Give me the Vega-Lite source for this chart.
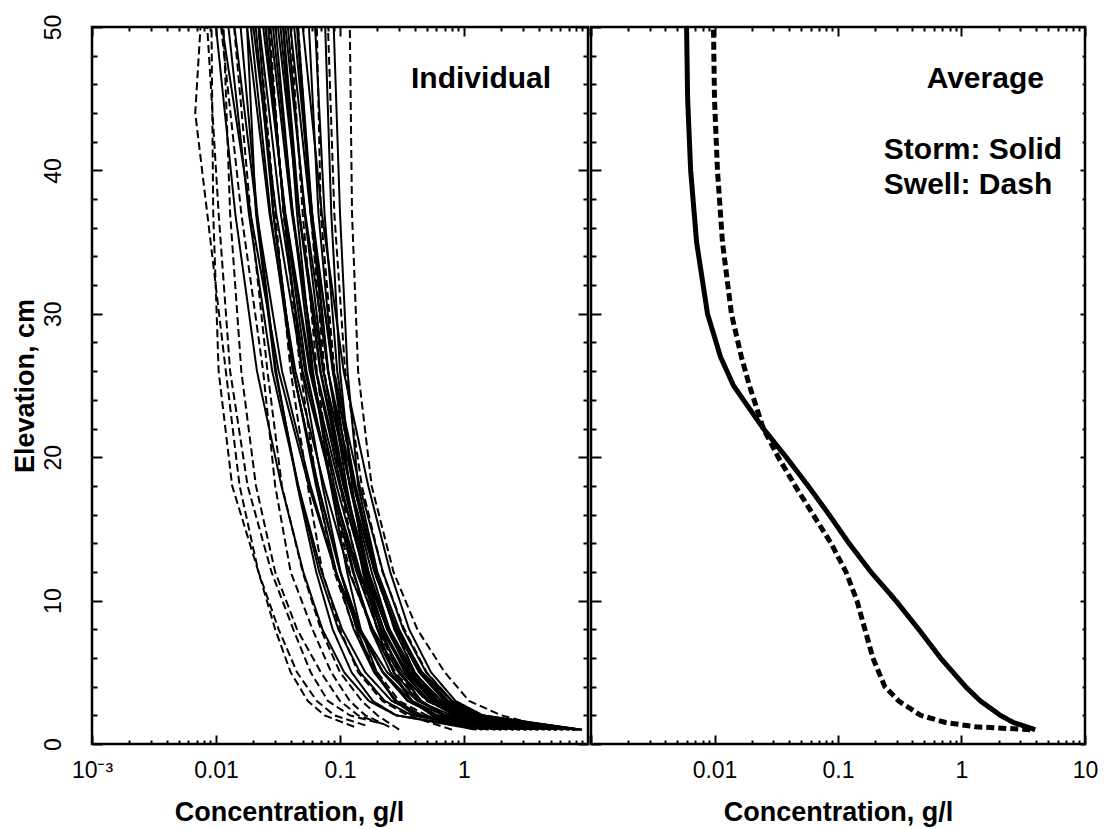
{
"$schema": "https://vega.github.io/schema/vega-lite/v6.json",
"background": "white",
"padding": {"left": 9, "top": 12, "right": 5, "bottom": 5},
"spacing": -4,
"config": {
  "view": {"stroke": "black", "strokeWidth": 2.5},
  "font": "Liberation Sans",
  "axis": {"domain": false, "grid": false, "minExtent": 0, "labelFont": "Liberation Sans", "labelFontSize": 23, "labelColor": "black", "titleFont": "Liberation Sans", "titleFontSize": 27, "titleFontWeight": "bold", "titleColor": "black", "tickColor": "black", "tickWidth": 2, "labelOverlap": false, "labelFlush": false, "labelBound": false}
},
"datasets": {
"individual": [
{"id":"S1","w":"Storm","z":1,"c":1.58},{"id":"S1","w":"Storm","z":2,"c":0.283},{"id":"S1","w":"Storm","z":3,"c":0.171},{"id":"S1","w":"Storm","z":5,"c":0.108},{"id":"S1","w":"Storm","z":8,"c":0.0721},{"id":"S1","w":"Storm","z":12,"c":0.0506},{"id":"S1","w":"Storm","z":18,"c":0.0337},{"id":"S1","w":"Storm","z":26,"c":0.0214},{"id":"S1","w":"Storm","z":37,"c":0.0143},{"id":"S1","w":"Storm","z":50,"c":0.0100},
{"id":"S2","w":"Storm","z":1,"c":2.82},{"id":"S2","w":"Storm","z":2,"c":0.448},{"id":"S2","w":"Storm","z":3,"c":0.261},{"id":"S2","w":"Storm","z":5,"c":0.160},{"id":"S2","w":"Storm","z":8,"c":0.104},{"id":"S2","w":"Storm","z":12,"c":0.0711},{"id":"S2","w":"Storm","z":18,"c":0.0461},{"id":"S2","w":"Storm","z":26,"c":0.0284},{"id":"S2","w":"Storm","z":37,"c":0.0184},{"id":"S2","w":"Storm","z":50,"c":0.0126},
{"id":"S3","w":"Storm","z":1,"c":5.01},{"id":"S3","w":"Storm","z":2,"c":0.681},{"id":"S3","w":"Storm","z":3,"c":0.378},{"id":"S3","w":"Storm","z":5,"c":0.223},{"id":"S3","w":"Storm","z":8,"c":0.140},{"id":"S3","w":"Storm","z":12,"c":0.0925},{"id":"S3","w":"Storm","z":18,"c":0.0578},{"id":"S3","w":"Storm","z":26,"c":0.0341},{"id":"S3","w":"Storm","z":37,"c":0.0213},{"id":"S3","w":"Storm","z":50,"c":0.0141},
{"id":"S4","w":"Storm","z":1,"c":1.26},{"id":"S4","w":"Storm","z":2,"c":0.284},{"id":"S4","w":"Storm","z":3,"c":0.184},{"id":"S4","w":"Storm","z":5,"c":0.124},{"id":"S4","w":"Storm","z":8,"c":0.0873},{"id":"S4","w":"Storm","z":12,"c":0.0643},{"id":"S4","w":"Storm","z":18,"c":0.0453},{"id":"S4","w":"Storm","z":26,"c":0.0305},{"id":"S4","w":"Storm","z":37,"c":0.0215},{"id":"S4","w":"Storm","z":50,"c":0.0158},
{"id":"S5","w":"Storm","z":1,"c":7.08},{"id":"S5","w":"Storm","z":2,"c":0.925},{"id":"S5","w":"Storm","z":3,"c":0.508},{"id":"S5","w":"Storm","z":5,"c":0.296},{"id":"S5","w":"Storm","z":8,"c":0.184},{"id":"S5","w":"Storm","z":12,"c":0.118},{"id":"S5","w":"Storm","z":18,"c":0.0748},{"id":"S5","w":"Storm","z":26,"c":0.0437},{"id":"S5","w":"Storm","z":37,"c":0.0270},{"id":"S5","w":"Storm","z":50,"c":0.0178},
{"id":"S6","w":"Storm","z":1,"c":3.55},{"id":"S6","w":"Storm","z":2,"c":0.600},{"id":"S6","w":"Storm","z":3,"c":0.356},{"id":"S6","w":"Storm","z":5,"c":0.222},{"id":"S6","w":"Storm","z":8,"c":0.146},{"id":"S6","w":"Storm","z":12,"c":0.101},{"id":"S6","w":"Storm","z":18,"c":0.0668},{"id":"S6","w":"Storm","z":26,"c":0.0418},{"id":"S6","w":"Storm","z":37,"c":0.0275},{"id":"S6","w":"Storm","z":50,"c":0.0191},
{"id":"S7","w":"Storm","z":1,"c":8.91},{"id":"S7","w":"Storm","z":2,"c":1.12},{"id":"S7","w":"Storm","z":3,"c":0.608},{"id":"S7","w":"Storm","z":5,"c":0.352},{"id":"S7","w":"Storm","z":8,"c":0.216},{"id":"S7","w":"Storm","z":12,"c":0.141},{"id":"S7","w":"Storm","z":18,"c":0.0863},{"id":"S7","w":"Storm","z":26,"c":0.0499},{"id":"S7","w":"Storm","z":37,"c":0.0306},{"id":"S7","w":"Storm","z":50,"c":0.0200},
{"id":"S8","w":"Storm","z":1,"c":2.24},{"id":"S8","w":"Storm","z":2,"c":0.457},{"id":"S8","w":"Storm","z":3,"c":0.286},{"id":"S8","w":"Storm","z":5,"c":0.188},{"id":"S8","w":"Storm","z":8,"c":0.129},{"id":"S8","w":"Storm","z":12,"c":0.0933},{"id":"S8","w":"Storm","z":18,"c":0.0641},{"id":"S8","w":"Storm","z":26,"c":0.0422},{"id":"S8","w":"Storm","z":37,"c":0.0290},{"id":"S8","w":"Storm","z":50,"c":0.0209},
{"id":"S9","w":"Storm","z":1,"c":6.31},{"id":"S9","w":"Storm","z":2,"c":0.927},{"id":"S9","w":"Storm","z":3,"c":0.527},{"id":"S9","w":"Storm","z":5,"c":0.318},{"id":"S9","w":"Storm","z":8,"c":0.202},{"id":"S9","w":"Storm","z":12,"c":0.136},{"id":"S9","w":"Storm","z":18,"c":0.0867},{"id":"S9","w":"Storm","z":26,"c":0.0522},{"id":"S9","w":"Storm","z":37,"c":0.0333},{"id":"S9","w":"Storm","z":50,"c":0.0224},
{"id":"S10","w":"Storm","z":1,"c":8.91},{"id":"S10","w":"Storm","z":2,"c":1.19},{"id":"S10","w":"Storm","z":3,"c":0.659},{"id":"S10","w":"Storm","z":5,"c":0.387},{"id":"S10","w":"Storm","z":8,"c":0.241},{"id":"S10","w":"Storm","z":12,"c":0.159},{"id":"S10","w":"Storm","z":18,"c":0.0993},{"id":"S10","w":"Storm","z":26,"c":0.0583},{"id":"S10","w":"Storm","z":37,"c":0.0363},{"id":"S10","w":"Storm","z":50,"c":0.0240},
{"id":"S11","w":"Storm","z":1,"c":3.98},{"id":"S11","w":"Storm","z":2,"c":0.711},{"id":"S11","w":"Storm","z":3,"c":0.429},{"id":"S11","w":"Storm","z":5,"c":0.272},{"id":"S11","w":"Storm","z":8,"c":0.181},{"id":"S11","w":"Storm","z":12,"c":0.127},{"id":"S11","w":"Storm","z":18,"c":0.0847},{"id":"S11","w":"Storm","z":26,"c":0.0537},{"id":"S11","w":"Storm","z":37,"c":0.0358},{"id":"S11","w":"Storm","z":50,"c":0.0251},
{"id":"S12","w":"Storm","z":1,"c":1.78},{"id":"S12","w":"Storm","z":2,"c":0.425},{"id":"S12","w":"Storm","z":3,"c":0.279},{"id":"S12","w":"Storm","z":5,"c":0.191},{"id":"S12","w":"Storm","z":8,"c":0.136},{"id":"S12","w":"Storm","z":12,"c":0.101},{"id":"S12","w":"Storm","z":18,"c":0.0723},{"id":"S12","w":"Storm","z":26,"c":0.0495},{"id":"S12","w":"Storm","z":37,"c":0.0353},{"id":"S12","w":"Storm","z":50,"c":0.0263},
{"id":"S13","w":"Storm","z":1,"c":7.94},{"id":"S13","w":"Storm","z":2,"c":1.16},{"id":"S13","w":"Storm","z":3,"c":0.658},{"id":"S13","w":"Storm","z":5,"c":0.394},{"id":"S13","w":"Storm","z":8,"c":0.251},{"id":"S13","w":"Storm","z":12,"c":0.169},{"id":"S13","w":"Storm","z":18,"c":0.107},{"id":"S13","w":"Storm","z":26,"c":0.0644},{"id":"S13","w":"Storm","z":37,"c":0.0409},{"id":"S13","w":"Storm","z":50,"c":0.0275},
{"id":"S14","w":"Storm","z":1,"c":5.62},{"id":"S14","w":"Storm","z":2,"c":0.935},{"id":"S14","w":"Storm","z":3,"c":0.552},{"id":"S14","w":"Storm","z":5,"c":0.344},{"id":"S14","w":"Storm","z":8,"c":0.225},{"id":"S14","w":"Storm","z":12,"c":0.156},{"id":"S14","w":"Storm","z":18,"c":0.102},{"id":"S14","w":"Storm","z":26,"c":0.0637},{"id":"S14","w":"Storm","z":37,"c":0.0417},{"id":"S14","w":"Storm","z":50,"c":0.0288},
{"id":"S15","w":"Storm","z":1,"c":2.82},{"id":"S15","w":"Storm","z":2,"c":0.603},{"id":"S15","w":"Storm","z":3,"c":0.383},{"id":"S15","w":"Storm","z":5,"c":0.255},{"id":"S15","w":"Storm","z":8,"c":0.177},{"id":"S15","w":"Storm","z":12,"c":0.129},{"id":"S15","w":"Storm","z":18,"c":0.0897},{"id":"S15","w":"Storm","z":26,"c":0.0597},{"id":"S15","w":"Storm","z":37,"c":0.0415},{"id":"S15","w":"Storm","z":50,"c":0.0302},
{"id":"S16","w":"Storm","z":1,"c":8.51},{"id":"S16","w":"Storm","z":2,"c":1.27},{"id":"S16","w":"Storm","z":3,"c":0.726},{"id":"S16","w":"Storm","z":5,"c":0.439},{"id":"S16","w":"Storm","z":8,"c":0.281},{"id":"S16","w":"Storm","z":12,"c":0.190},{"id":"S16","w":"Storm","z":18,"c":0.121},{"id":"S16","w":"Storm","z":26,"c":0.0733},{"id":"S16","w":"Storm","z":37,"c":0.0468},{"id":"S16","w":"Storm","z":50,"c":0.0316},
{"id":"S17","w":"Storm","z":1,"c":4.47},{"id":"S17","w":"Storm","z":2,"c":0.843},{"id":"S17","w":"Storm","z":3,"c":0.516},{"id":"S17","w":"Storm","z":5,"c":0.332},{"id":"S17","w":"Storm","z":8,"c":0.224},{"id":"S17","w":"Storm","z":12,"c":0.159},{"id":"S17","w":"Storm","z":18,"c":0.107},{"id":"S17","w":"Storm","z":26,"c":0.0692},{"id":"S17","w":"Storm","z":37,"c":0.0467},{"id":"S17","w":"Storm","z":50,"c":0.0331},
{"id":"S18","w":"Storm","z":1,"c":1.41},{"id":"S18","w":"Storm","z":2,"c":0.401},{"id":"S18","w":"Storm","z":3,"c":0.277},{"id":"S18","w":"Storm","z":5,"c":0.198},{"id":"S18","w":"Storm","z":8,"c":0.147},{"id":"S18","w":"Storm","z":12,"c":0.114},{"id":"S18","w":"Storm","z":18,"c":0.0843},{"id":"S18","w":"Storm","z":26,"c":0.0605},{"id":"S18","w":"Storm","z":37,"c":0.0450},{"id":"S18","w":"Storm","z":50,"c":0.0347},
{"id":"S19","w":"Storm","z":1,"c":7.08},{"id":"S19","w":"Storm","z":2,"c":1.18},{"id":"S19","w":"Storm","z":3,"c":0.695},{"id":"S19","w":"Storm","z":5,"c":0.433},{"id":"S19","w":"Storm","z":8,"c":0.284},{"id":"S19","w":"Storm","z":12,"c":0.196},{"id":"S19","w":"Storm","z":18,"c":0.129},{"id":"S19","w":"Storm","z":26,"c":0.0802},{"id":"S19","w":"Storm","z":37,"c":0.0525},{"id":"S19","w":"Storm","z":50,"c":0.0363},
{"id":"S20","w":"Storm","z":1,"c":3.16},{"id":"S20","w":"Storm","z":2,"c":0.703},{"id":"S20","w":"Storm","z":3,"c":0.452},{"id":"S20","w":"Storm","z":5,"c":0.303},{"id":"S20","w":"Storm","z":8,"c":0.213},{"id":"S20","w":"Storm","z":12,"c":0.156},{"id":"S20","w":"Storm","z":18,"c":0.110},{"id":"S20","w":"Storm","z":26,"c":0.0738},{"id":"S20","w":"Storm","z":37,"c":0.0518},{"id":"S20","w":"Storm","z":50,"c":0.0380},
{"id":"S21","w":"Storm","z":1,"c":8.51},{"id":"S21","w":"Storm","z":2,"c":1.37},{"id":"S21","w":"Storm","z":3,"c":0.803},{"id":"S21","w":"Storm","z":5,"c":0.495},{"id":"S21","w":"Storm","z":8,"c":0.323},{"id":"S21","w":"Storm","z":12,"c":0.222},{"id":"S21","w":"Storm","z":18,"c":0.144},{"id":"S21","w":"Storm","z":26,"c":0.0891},{"id":"S21","w":"Storm","z":37,"c":0.0579},{"id":"S21","w":"Storm","z":50,"c":0.0398},
{"id":"S22","w":"Storm","z":1,"c":5.01},{"id":"S22","w":"Storm","z":2,"c":0.991},{"id":"S22","w":"Storm","z":3,"c":0.615},{"id":"S22","w":"Storm","z":5,"c":0.401},{"id":"S22","w":"Storm","z":8,"c":0.274},{"id":"S22","w":"Storm","z":12,"c":0.196},{"id":"S22","w":"Storm","z":18,"c":0.134},{"id":"S22","w":"Storm","z":26,"c":0.0873},{"id":"S22","w":"Storm","z":37,"c":0.0596},{"id":"S22","w":"Storm","z":50,"c":0.0427},
{"id":"S23","w":"Storm","z":1,"c":2.00},{"id":"S23","w":"Storm","z":2,"c":0.552},{"id":"S23","w":"Storm","z":3,"c":0.378},{"id":"S23","w":"Storm","z":5,"c":0.270},{"id":"S23","w":"Storm","z":8,"c":0.200},{"id":"S23","w":"Storm","z":12,"c":0.153},{"id":"S23","w":"Storm","z":18,"c":0.113},{"id":"S23","w":"Storm","z":26,"c":0.0805},{"id":"S23","w":"Storm","z":37,"c":0.0596},{"id":"S23","w":"Storm","z":50,"c":0.0457},
{"id":"S24","w":"Storm","z":1,"c":7.94},{"id":"S24","w":"Storm","z":2,"c":1.42},{"id":"S24","w":"Storm","z":3,"c":0.855},{"id":"S24","w":"Storm","z":5,"c":0.542},{"id":"S24","w":"Storm","z":8,"c":0.361},{"id":"S24","w":"Storm","z":12,"c":0.254},{"id":"S24","w":"Storm","z":18,"c":0.169},{"id":"S24","w":"Storm","z":26,"c":0.107},{"id":"S24","w":"Storm","z":37,"c":0.0714},{"id":"S24","w":"Storm","z":50,"c":0.0501},
{"id":"S25","w":"Storm","z":1,"c":3.98},{"id":"S25","w":"Storm","z":2,"c":0.85},{"id":"S25","w":"Storm","z":3,"c":0.55},{"id":"S25","w":"Storm","z":5,"c":0.36},{"id":"S25","w":"Storm","z":8,"c":0.24},{"id":"S25","w":"Storm","z":12,"c":0.17},{"id":"S25","w":"Storm","z":18,"c":0.12},{"id":"S25","w":"Storm","z":26,"c":0.088},{"id":"S25","w":"Storm","z":37,"c":0.067},{"id":"S25","w":"Storm","z":50,"c":0.0562},
{"id":"S26","w":"Storm","z":1,"c":8.9},{"id":"S26","w":"Storm","z":2,"c":1.4},{"id":"S26","w":"Storm","z":3,"c":0.8},{"id":"S26","w":"Storm","z":5,"c":0.46},{"id":"S26","w":"Storm","z":8,"c":0.29},{"id":"S26","w":"Storm","z":12,"c":0.19},{"id":"S26","w":"Storm","z":18,"c":0.13},{"id":"S26","w":"Storm","z":26,"c":0.095},{"id":"S26","w":"Storm","z":37,"c":0.075},{"id":"S26","w":"Storm","z":50,"c":0.063},
{"id":"S27","w":"Storm","z":1,"c":2.5},{"id":"S27","w":"Storm","z":2,"c":0.7},{"id":"S27","w":"Storm","z":3,"c":0.45},{"id":"S27","w":"Storm","z":5,"c":0.3},{"id":"S27","w":"Storm","z":8,"c":0.21},{"id":"S27","w":"Storm","z":12,"c":0.16},{"id":"S27","w":"Storm","z":18,"c":0.125},{"id":"S27","w":"Storm","z":26,"c":0.1},{"id":"S27","w":"Storm","z":37,"c":0.085},{"id":"S27","w":"Storm","z":50,"c":0.076},
{"id":"S28","w":"Storm","z":1,"c":6.3},{"id":"S28","w":"Storm","z":2,"c":1.3},{"id":"S28","w":"Storm","z":3,"c":0.75},{"id":"S28","w":"Storm","z":5,"c":0.45},{"id":"S28","w":"Storm","z":8,"c":0.3},{"id":"S28","w":"Storm","z":12,"c":0.2},{"id":"S28","w":"Storm","z":18,"c":0.14},{"id":"S28","w":"Storm","z":26,"c":0.115},{"id":"S28","w":"Storm","z":37,"c":0.1},{"id":"S28","w":"Storm","z":50,"c":0.089},
{"id":"S29","w":"Storm","z":1,"c":3.2},{"id":"S29","w":"Storm","z":2,"c":0.6},{"id":"S29","w":"Storm","z":3,"c":0.35},{"id":"S29","w":"Storm","z":5,"c":0.22},{"id":"S29","w":"Storm","z":8,"c":0.145},{"id":"S29","w":"Storm","z":12,"c":0.1},{"id":"S29","w":"Storm","z":18,"c":0.066},{"id":"S29","w":"Storm","z":26,"c":0.042},{"id":"S29","w":"Storm","z":37,"c":0.029},{"id":"S29","w":"Storm","z":50,"c":0.022},
{"id":"S30","w":"Storm","z":1,"c":7.9},{"id":"S30","w":"Storm","z":2,"c":1.1},{"id":"S30","w":"Storm","z":3,"c":0.62},{"id":"S30","w":"Storm","z":5,"c":0.37},{"id":"S30","w":"Storm","z":8,"c":0.24},{"id":"S30","w":"Storm","z":12,"c":0.165},{"id":"S30","w":"Storm","z":18,"c":0.11},{"id":"S30","w":"Storm","z":26,"c":0.07},{"id":"S30","w":"Storm","z":37,"c":0.047},{"id":"S30","w":"Storm","z":50,"c":0.035},
{"id":"S31","w":"Storm","z":1,"c":8.3},{"id":"S31","w":"Storm","z":2,"c":1.05},{"id":"S31","w":"Storm","z":3,"c":0.58},{"id":"S31","w":"Storm","z":5,"c":0.34},{"id":"S31","w":"Storm","z":8,"c":0.215},{"id":"S31","w":"Storm","z":12,"c":0.145},{"id":"S31","w":"Storm","z":18,"c":0.094},{"id":"S31","w":"Storm","z":26,"c":0.057},{"id":"S31","w":"Storm","z":37,"c":0.036},{"id":"S31","w":"Storm","z":50,"c":0.025},
{"id":"S32","w":"Storm","z":1,"c":5.6},{"id":"S32","w":"Storm","z":2,"c":0.95},{"id":"S32","w":"Storm","z":3,"c":0.58},{"id":"S32","w":"Storm","z":5,"c":0.37},{"id":"S32","w":"Storm","z":8,"c":0.25},{"id":"S32","w":"Storm","z":12,"c":0.18},{"id":"S32","w":"Storm","z":18,"c":0.12},{"id":"S32","w":"Storm","z":26,"c":0.08},{"id":"S32","w":"Storm","z":37,"c":0.058},{"id":"S32","w":"Storm","z":50,"c":0.045},
{"id":"S33","w":"Storm","z":1,"c":7.9},{"id":"S33","w":"Storm","z":2,"c":0.8},{"id":"S33","w":"Storm","z":3,"c":0.42},{"id":"S33","w":"Storm","z":5,"c":0.24},{"id":"S33","w":"Storm","z":8,"c":0.145},{"id":"S33","w":"Storm","z":12,"c":0.092},{"id":"S33","w":"Storm","z":18,"c":0.056},{"id":"S33","w":"Storm","z":26,"c":0.032},{"id":"S33","w":"Storm","z":37,"c":0.019},{"id":"S33","w":"Storm","z":50,"c":0.0112},
{"id":"S34","w":"Storm","z":1,"c":2.0},{"id":"S34","w":"Storm","z":2,"c":0.38},{"id":"S34","w":"Storm","z":3,"c":0.23},{"id":"S34","w":"Storm","z":5,"c":0.145},{"id":"S34","w":"Storm","z":8,"c":0.097},{"id":"S34","w":"Storm","z":12,"c":0.068},{"id":"S34","w":"Storm","z":18,"c":0.046},{"id":"S34","w":"Storm","z":26,"c":0.03},{"id":"S34","w":"Storm","z":37,"c":0.021},{"id":"S34","w":"Storm","z":50,"c":0.0178},
{"id":"D1","w":"Swell","z":1.3,"c":0.16},{"id":"D1","w":"Swell","z":2,"c":0.09},{"id":"D1","w":"Swell","z":3,"c":0.065},{"id":"D1","w":"Swell","z":5,"c":0.045},{"id":"D1","w":"Swell","z":8,"c":0.032},{"id":"D1","w":"Swell","z":12,"c":0.022},{"id":"D1","w":"Swell","z":18,"c":0.0155},{"id":"D1","w":"Swell","z":26,"c":0.012},{"id":"D1","w":"Swell","z":37,"c":0.0085},{"id":"D1","w":"Swell","z":44,"c":0.0068},{"id":"D1","w":"Swell","z":50,"c":0.0075},
{"id":"D2","w":"Swell","z":1.5,"c":0.2},{"id":"D2","w":"Swell","z":2,"c":0.12},{"id":"D2","w":"Swell","z":3,"c":0.08},{"id":"D2","w":"Swell","z":5,"c":0.058},{"id":"D2","w":"Swell","z":8,"c":0.042},{"id":"D2","w":"Swell","z":12,"c":0.028},{"id":"D2","w":"Swell","z":18,"c":0.018},{"id":"D2","w":"Swell","z":26,"c":0.013},{"id":"D2","w":"Swell","z":37,"c":0.0105},{"id":"D2","w":"Swell","z":50,"c":0.0085},
{"id":"D3","w":"Swell","z":1.2,"c":0.13},{"id":"D3","w":"Swell","z":2,"c":0.075},{"id":"D3","w":"Swell","z":3,"c":0.055},{"id":"D3","w":"Swell","z":5,"c":0.04},{"id":"D3","w":"Swell","z":8,"c":0.03},{"id":"D3","w":"Swell","z":12,"c":0.022},{"id":"D3","w":"Swell","z":18,"c":0.0135},{"id":"D3","w":"Swell","z":26,"c":0.0105},{"id":"D3","w":"Swell","z":37,"c":0.0095},{"id":"D3","w":"Swell","z":50,"c":0.0092},
{"id":"D4","w":"Swell","z":1.2,"c":0.25},{"id":"D4","w":"Swell","z":2,"c":0.16},{"id":"D4","w":"Swell","z":3,"c":0.12},{"id":"D4","w":"Swell","z":5,"c":0.085},{"id":"D4","w":"Swell","z":8,"c":0.06},{"id":"D4","w":"Swell","z":12,"c":0.04},{"id":"D4","w":"Swell","z":18,"c":0.03},{"id":"D4","w":"Swell","z":26,"c":0.024},{"id":"D4","w":"Swell","z":37,"c":0.016},{"id":"D4","w":"Swell","z":50,"c":0.011},
{"id":"D5","w":"Swell","z":1,"c":0.3},{"id":"D5","w":"Swell","z":2,"c":0.2},{"id":"D5","w":"Swell","z":3,"c":0.15},{"id":"D5","w":"Swell","z":5,"c":0.1},{"id":"D5","w":"Swell","z":8,"c":0.07},{"id":"D5","w":"Swell","z":12,"c":0.05},{"id":"D5","w":"Swell","z":18,"c":0.034},{"id":"D5","w":"Swell","z":26,"c":0.026},{"id":"D5","w":"Swell","z":37,"c":0.019},{"id":"D5","w":"Swell","z":50,"c":0.014},
{"id":"D6","w":"Swell","z":1.4,"c":0.22},{"id":"D6","w":"Swell","z":2,"c":0.14},{"id":"D6","w":"Swell","z":3,"c":0.1},{"id":"D6","w":"Swell","z":5,"c":0.07},{"id":"D6","w":"Swell","z":8,"c":0.045},{"id":"D6","w":"Swell","z":12,"c":0.03},{"id":"D6","w":"Swell","z":18,"c":0.021},{"id":"D6","w":"Swell","z":26,"c":0.016},{"id":"D6","w":"Swell","z":37,"c":0.013},{"id":"D6","w":"Swell","z":50,"c":0.0115},
{"id":"D7","w":"Swell","z":1,"c":1.2},{"id":"D7","w":"Swell","z":2,"c":0.5},{"id":"D7","w":"Swell","z":3,"c":0.3},{"id":"D7","w":"Swell","z":5,"c":0.2},{"id":"D7","w":"Swell","z":8,"c":0.13},{"id":"D7","w":"Swell","z":12,"c":0.09},{"id":"D7","w":"Swell","z":18,"c":0.065},{"id":"D7","w":"Swell","z":26,"c":0.048},{"id":"D7","w":"Swell","z":37,"c":0.035},{"id":"D7","w":"Swell","z":50,"c":0.027},
{"id":"D8","w":"Swell","z":1,"c":0.8},{"id":"D8","w":"Swell","z":2,"c":0.35},{"id":"D8","w":"Swell","z":3,"c":0.22},{"id":"D8","w":"Swell","z":5,"c":0.14},{"id":"D8","w":"Swell","z":8,"c":0.1},{"id":"D8","w":"Swell","z":12,"c":0.072},{"id":"D8","w":"Swell","z":18,"c":0.055},{"id":"D8","w":"Swell","z":26,"c":0.04},{"id":"D8","w":"Swell","z":37,"c":0.03},{"id":"D8","w":"Swell","z":50,"c":0.022},
{"id":"D9","w":"Swell","z":1,"c":2.5},{"id":"D9","w":"Swell","z":2,"c":0.9},{"id":"D9","w":"Swell","z":3,"c":0.5},{"id":"D9","w":"Swell","z":5,"c":0.3},{"id":"D9","w":"Swell","z":8,"c":0.2},{"id":"D9","w":"Swell","z":12,"c":0.14},{"id":"D9","w":"Swell","z":18,"c":0.1},{"id":"D9","w":"Swell","z":26,"c":0.075},{"id":"D9","w":"Swell","z":37,"c":0.058},{"id":"D9","w":"Swell","z":50,"c":0.046},
{"id":"D10","w":"Swell","z":1,"c":1.8},{"id":"D10","w":"Swell","z":2,"c":0.7},{"id":"D10","w":"Swell","z":3,"c":0.45},{"id":"D10","w":"Swell","z":5,"c":0.28},{"id":"D10","w":"Swell","z":8,"c":0.18},{"id":"D10","w":"Swell","z":12,"c":0.12},{"id":"D10","w":"Swell","z":18,"c":0.085},{"id":"D10","w":"Swell","z":26,"c":0.065},{"id":"D10","w":"Swell","z":37,"c":0.05},{"id":"D10","w":"Swell","z":50,"c":0.04},
{"id":"D11","w":"Swell","z":1,"c":5.5},{"id":"D11","w":"Swell","z":2,"c":2.0},{"id":"D11","w":"Swell","z":3,"c":1.1},{"id":"D11","w":"Swell","z":5,"c":0.7},{"id":"D11","w":"Swell","z":8,"c":0.42},{"id":"D11","w":"Swell","z":12,"c":0.27},{"id":"D11","w":"Swell","z":18,"c":0.18},{"id":"D11","w":"Swell","z":26,"c":0.14},{"id":"D11","w":"Swell","z":37,"c":0.125},{"id":"D11","w":"Swell","z":50,"c":0.12},
{"id":"D12","w":"Swell","z":1,"c":3.5},{"id":"D12","w":"Swell","z":2,"c":1.4},{"id":"D12","w":"Swell","z":3,"c":0.8},{"id":"D12","w":"Swell","z":5,"c":0.5},{"id":"D12","w":"Swell","z":8,"c":0.33},{"id":"D12","w":"Swell","z":12,"c":0.22},{"id":"D12","w":"Swell","z":18,"c":0.15},{"id":"D12","w":"Swell","z":26,"c":0.11},{"id":"D12","w":"Swell","z":37,"c":0.09},{"id":"D12","w":"Swell","z":50,"c":0.08},
{"id":"D13","w":"Swell","z":1,"c":2.0},{"id":"D13","w":"Swell","z":2,"c":0.9},{"id":"D13","w":"Swell","z":3,"c":0.6},{"id":"D13","w":"Swell","z":5,"c":0.4},{"id":"D13","w":"Swell","z":8,"c":0.28},{"id":"D13","w":"Swell","z":12,"c":0.19},{"id":"D13","w":"Swell","z":18,"c":0.13},{"id":"D13","w":"Swell","z":26,"c":0.09},{"id":"D13","w":"Swell","z":37,"c":0.07},{"id":"D13","w":"Swell","z":50,"c":0.065}
],
"average": [
{"w":"Storm","z":1,"c":3.952},{"w":"Storm","z":1.5,"c":2.627},{"w":"Storm","z":2,"c":2.063},{"w":"Storm","z":3,"c":1.423},{"w":"Storm","z":4,"c":1.077},{"w":"Storm","z":6,"c":0.677},{"w":"Storm","z":8,"c":0.4498},{"w":"Storm","z":10,"c":0.2935},{"w":"Storm","z":12,"c":0.1845},{"w":"Storm","z":14,"c":0.1227},{"w":"Storm","z":16,"c":0.0846},{"w":"Storm","z":18,"c":0.0573},{"w":"Storm","z":20,"c":0.03807},{"w":"Storm","z":22,"c":0.02485},{"w":"Storm","z":23.5,"c":0.0188},{"w":"Storm","z":25,"c":0.01423},{"w":"Storm","z":27,"c":0.01118},{"w":"Storm","z":30,"c":0.00878},{"w":"Storm","z":35,"c":0.00716},{"w":"Storm","z":40,"c":0.00641},{"w":"Storm","z":45,"c":0.00606},{"w":"Storm","z":50,"c":0.00594},
{"w":"Swell","z":1,"c":3.601},{"w":"Swell","z":1.2,"c":1.297},{"w":"Swell","z":1.5,"c":0.743},{"w":"Swell","z":2,"c":0.467},{"w":"Swell","z":3,"c":0.3103},{"w":"Swell","z":4,"c":0.2393},{"w":"Swell","z":6,"c":0.1916},{"w":"Swell","z":8,"c":0.1651},{"w":"Swell","z":10,"c":0.1423},{"w":"Swell","z":12,"c":0.116},{"w":"Swell","z":14,"c":0.0878},{"w":"Swell","z":16,"c":0.06286},{"w":"Swell","z":18,"c":0.04498},{"w":"Swell","z":20,"c":0.03282},{"w":"Swell","z":22,"c":0.02485},{"w":"Swell","z":23.5,"c":0.02182},{"w":"Swell","z":25,"c":0.01916},{"w":"Swell","z":27,"c":0.01651},{"w":"Swell","z":30,"c":0.01371},{"w":"Swell","z":35,"c":0.0116},{"w":"Swell","z":40,"c":0.01057},{"w":"Swell","z":45,"c":0.0100},{"w":"Swell","z":50,"c":0.00981}
],
"labelsLeft": [{"c": 0.374, "z": 46.4, "t": "Individual"}],
"labelsRight": [{"c": 0.522, "z": 46.4, "t": "Average"}, {"c": 0.235, "z": 41.4, "t": "Storm: Solid"}, {"c": 0.235, "z": 39.0, "t": "Swell:  Dash"}]
},
"hconcat": [
{
  "width": 496, "height": 717,
  "layer": [
    {
      "data": {"name": "individual"},
      "mark": {"type": "line", "strokeWidth": 2, "color": "black"},
      "encoding": {
        "x": {"field": "c", "type": "quantitative", "scale": {"type": "log", "domain": [0.001, 10], "nice": false},
          "axis": {"orient": "bottom", "title": "Concentration, g/l", "titleX": 197, "titleAlign": "center", "values": [0.001,0.002,0.003,0.004,0.005,0.006,0.007,0.008,0.009,0.01,0.02,0.03,0.04,0.05,0.06,0.07,0.08,0.09,0.1,0.2,0.3,0.4,0.5,0.6,0.7,0.8,0.9,1,2,3,4,5,6,7,8,9,10],
            "tickSize": {"condition": {"test": "abs(log(datum.value)/LN10 - round(log(datum.value)/LN10)) < 0.001", "value": -9}, "value": -4},
            "labelExpr": "datum.value == 0.001 ? '10⁻³' : datum.value == 0.01 ? '0.01' : datum.value == 0.1 ? '0.1' : datum.value == 1 ? '1' : ''",
            "labelPadding": 24, "titlePadding": 12}},
        "y": {"field": "z", "type": "quantitative", "scale": {"domain": [0, 50], "nice": false},
          "axis": {"orient": "left", "title": "Elevation, cm", "values": [0,2,4,6,8,10,12,14,16,18,20,22,24,26,28,30,32,34,36,38,40,42,44,46,48,50],
            "tickSize": {"condition": {"test": "datum.value % 10 == 0", "value": -10}, "value": -5},
            "labelExpr": "datum.value % 10 == 0 ? datum.label : ''", "labelAngle": 270, "labelAlign": "center", "labelBaseline": "bottom",
            "labelPadding": 37, "titlePadding": -2}},
        "detail": {"field": "id"},
        "order": {"field": "z"},
        "strokeDash": {"field": "w", "type": "nominal", "scale": {"domain": ["Storm", "Swell"], "range": [[1, 0], [8, 4]]}, "legend": null}
      }
    },
    {
      "data": {"name": "labelsLeft"},
      "mark": {"type": "text", "align": "left", "baseline": "middle", "fontSize": 30, "fontWeight": "bold", "font": "Liberation Sans", "color": "black"},
      "encoding": {
        "x": {"field": "c", "type": "quantitative",
          "axis": {"orient": "top", "title": null, "labels": false, "values": [0.001,0.002,0.003,0.004,0.005,0.006,0.007,0.008,0.009,0.01,0.02,0.03,0.04,0.05,0.06,0.07,0.08,0.09,0.1,0.2,0.3,0.4,0.5,0.6,0.7,0.8,0.9,1,2,3,4,5,6,7,8,9,10],
            "tickSize": {"condition": {"test": "abs(log(datum.value)/LN10 - round(log(datum.value)/LN10)) < 0.001", "value": -9}, "value": -4}}},
        "y": {"field": "z", "type": "quantitative",
          "axis": {"orient": "right", "title": null, "labels": false, "values": [0,2,4,6,8,10,12,14,16,18,20,22,24,26,28,30,32,34,36,38,40,42,44,46,48,50],
            "tickSize": {"condition": {"test": "datum.value % 10 == 0", "value": -10}, "value": -5}}},
        "text": {"field": "t"}
      }
    }
  ],
  "resolve": {"axis": {"x": "independent", "y": "independent"}}
},
{
  "width": 494, "height": 717,
  "layer": [
    {
      "data": {"name": "average"},
      "mark": {"type": "line", "strokeWidth": 5, "color": "black"},
      "encoding": {
        "x": {"field": "c", "type": "quantitative", "scale": {"type": "log", "domain": [0.001, 10], "nice": false},
          "axis": {"orient": "bottom", "title": "Concentration, g/l", "values": [0.001,0.002,0.003,0.004,0.005,0.006,0.007,0.008,0.009,0.01,0.02,0.03,0.04,0.05,0.06,0.07,0.08,0.09,0.1,0.2,0.3,0.4,0.5,0.6,0.7,0.8,0.9,1,2,3,4,5,6,7,8,9,10],
            "tickSize": {"condition": {"test": "abs(log(datum.value)/LN10 - round(log(datum.value)/LN10)) < 0.001", "value": -9}, "value": -4},
            "labelExpr": "datum.value == 0.01 ? '0.01' : datum.value == 0.1 ? '0.1' : datum.value == 1 ? '1' : datum.value == 10 ? '10' : ''",
            "labelPadding": 24, "titlePadding": 12}},
        "y": {"field": "z", "type": "quantitative", "scale": {"domain": [0, 50], "nice": false},
          "axis": {"orient": "left", "title": null, "labels": false, "values": [0,2,4,6,8,10,12,14,16,18,20,22,24,26,28,30,32,34,36,38,40,42,44,46,48,50],
            "tickSize": {"condition": {"test": "datum.value % 10 == 0", "value": -10}, "value": -5}}},
        "order": {"field": "z"},
        "strokeDash": {"field": "w", "type": "nominal", "scale": {"domain": ["Storm", "Swell"], "range": [[1, 0], [9, 2]]}, "legend": null}
      }
    },
    {
      "data": {"name": "labelsRight"},
      "mark": {"type": "text", "align": "left", "baseline": "middle", "fontSize": 30, "fontWeight": "bold", "font": "Liberation Sans", "color": "black"},
      "encoding": {
        "x": {"field": "c", "type": "quantitative",
          "axis": {"orient": "top", "title": null, "labels": false, "values": [0.001,0.002,0.003,0.004,0.005,0.006,0.007,0.008,0.009,0.01,0.02,0.03,0.04,0.05,0.06,0.07,0.08,0.09,0.1,0.2,0.3,0.4,0.5,0.6,0.7,0.8,0.9,1,2,3,4,5,6,7,8,9,10],
            "tickSize": {"condition": {"test": "abs(log(datum.value)/LN10 - round(log(datum.value)/LN10)) < 0.001", "value": -9}, "value": -4}}},
        "y": {"field": "z", "type": "quantitative",
          "axis": {"orient": "right", "title": null, "labels": false, "values": [0,2,4,6,8,10,12,14,16,18,20,22,24,26,28,30,32,34,36,38,40,42,44,46,48,50],
            "tickSize": {"condition": {"test": "datum.value % 10 == 0", "value": -5}, "value": -3}}},
        "text": {"field": "t"}
      }
    }
  ],
  "resolve": {"axis": {"x": "independent", "y": "independent"}}
}
]
}
